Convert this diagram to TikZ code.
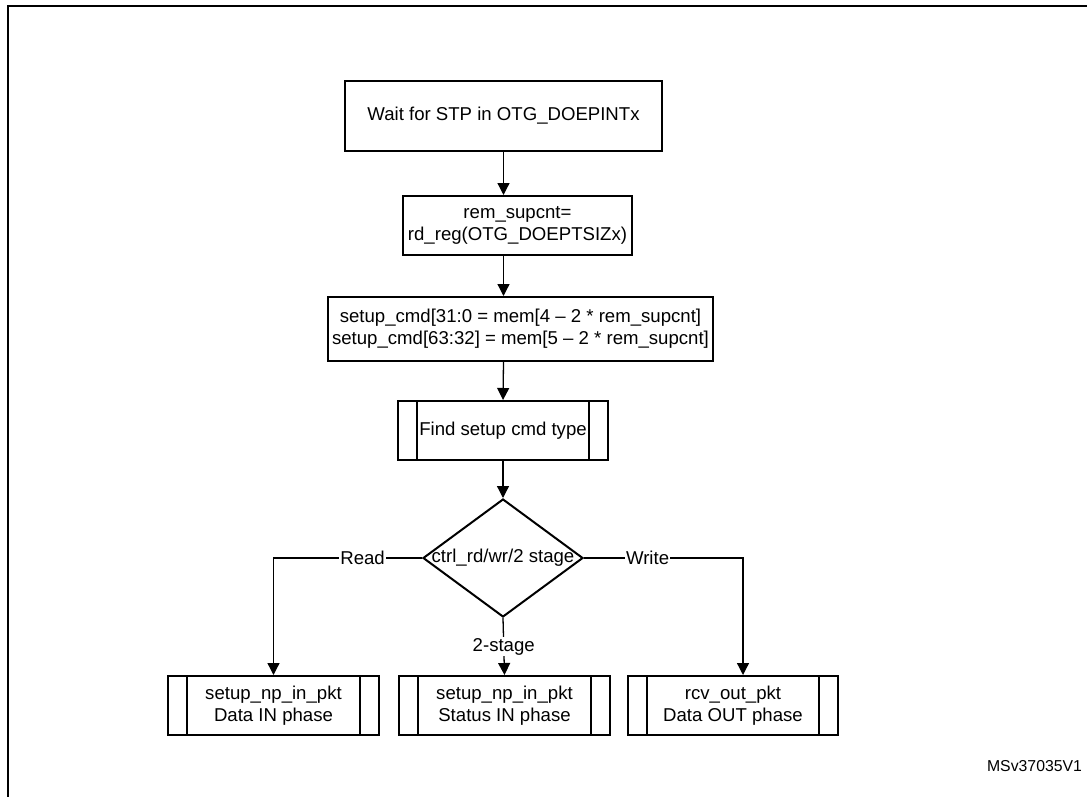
\documentclass[tikz,border=0pt]{standalone}
\usepackage{fontspec}
\setmainfont{Liberation Sans}
\usetikzlibrary{shapes.geometric,arrows.meta}

\tikzset{
  proc/.style={draw, line width=2pt, inner sep=0pt, align=center},
  flow/.style={line width=1.3pt, -{Triangle[width=12pt,length=12pt]}},
  tag/.style={fill=white, inner sep=1pt}
}

\begin{document}
\begin{tikzpicture}[x=1pt,y=-1pt,font=\fontsize{18.6}{22}\selectfont]
  \useasboundingbox (0,0) rectangle (1087,797);
  \draw [line width=2pt] (7.5,797) -- (7.5,6) -- (1087,6);

  \node [proc, minimum width=317pt, minimum height=70pt] (wait) at (503.5,116) {Wait for STP in OTG\_DOEPINTx};
  \node [proc, minimum width=229pt, minimum height=59pt] (remcnt) at (517.5,225.5) {rem\_supcnt=\\rd\_reg(OTG\_DOEPTSIZx)};
  \node [proc, minimum width=385pt, minimum height=64pt] (setup) at (520.5,329) {setup\_cmd[31:0 = mem[4 -- 2 * rem\_supcnt]\\setup\_cmd[63:32] = mem[5 -- 2 * rem\_supcnt]};
  \node [proc, minimum width=210pt, minimum height=59pt] (find) at (503,430.5) {Find setup cmd type};

  \node [draw, diamond, line width=2pt, minimum width=160pt, minimum height=118pt, inner sep=0pt,
         label=center:{ctrl\_rd/wr/2 stage}] (ctrl) at (503,558) {};

  \node [proc, minimum width=211pt, minimum height=59pt] (rd) at (273.5,705.5) {setup\_np\_in\_pkt\\Data IN phase};
  \node [proc, minimum width=211pt, minimum height=59pt] (st) at (504.5,705.5) {setup\_np\_in\_pkt\\Status IN phase};
  \node [proc, minimum width=210pt, minimum height=59pt] (wr) at (733,705.5) {rcv\_out\_pkt\\Data OUT phase};

  \foreach \n in {find,rd,st,wr} {
    \draw [line width=2pt] ([xshift=20pt]\n.north west) -- ([xshift=20pt]\n.south west);
    \draw [line width=2pt] ([xshift=-20pt]\n.north east) -- ([xshift=-20pt]\n.south east);
  }

  \draw [flow] (wait.south) -- (wait.south |- remcnt.north);
  \draw [flow] (wait.south |- remcnt.south) -- (wait.south |- setup.north);
  \draw [flow] (wait.south |- setup.south) -- (find.north);
  \draw [flow] (find.south) -- (ctrl.north);

  \draw [flow] (ctrl.west) -| node [tag, pos=0.2] {Read} (rd.north);
  \draw [flow] (ctrl.east) -| node [tag, pos=0.2] {Write} ([xshift=10pt]wr.north);
  \draw [flow] (ctrl.south) -- node [tag] {2-stage} (st.north);

  \node [font=\fontsize{15.8}{18}\selectfont] (msv) at (1034.5,766) {MSv37035V1};
\end{tikzpicture}
\end{document}
